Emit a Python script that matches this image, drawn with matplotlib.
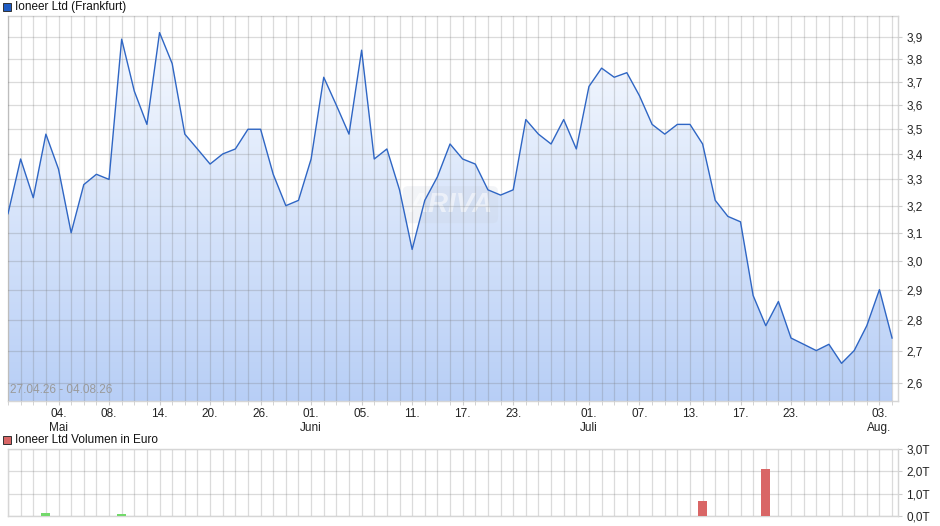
import numpy as np
import matplotlib
matplotlib.use("Agg")
import matplotlib.pyplot as plt
from matplotlib.patches import Rectangle, Polygon
from matplotlib.ticker import FixedLocator, NullLocator, FuncFormatter

plt.rcParams["font.family"] = ["Liberation Sans", "DejaVu Sans"]

# ── Daten (Handelstage 27.04.26 - 04.08.26) ─────────────────
prices = [3.17, 3.38, 3.23, 3.48, 3.34, 3.10, 3.28, 3.32, 3.30, 3.89,
          3.66, 3.52, 3.92, 3.78, 3.48, 3.42, 3.36, 3.40, 3.42, 3.50,
          3.50, 3.32, 3.20, 3.22, 3.38, 3.72, 3.60, 3.48, 3.84, 3.38,
          3.42, 3.26, 3.04, 3.22, 3.31, 3.44, 3.38, 3.36, 3.26, 3.24,
          3.26, 3.54, 3.48, 3.44, 3.54, 3.42, 3.68, 3.76, 3.72, 3.74,
          3.64, 3.52, 3.48, 3.52, 3.52, 3.44, 3.22, 3.16, 3.14, 2.88,
          2.78, 2.86, 2.74, 2.72, 2.70, 2.72, 2.66, 2.70, 2.78, 2.90,
          2.74]

tick_pos = [4, 8, 12, 16, 20, 24, 28, 32, 36, 40, 46, 50, 54, 58, 62, 69]
tick_labels = ["04.\nMai", "08.", "14.", "20.", "26.", "01.\nJuni", "05.", "11.",
               "17.", "23.", "01.\nJuli", "07.", "13.", "17.", "23.", "03.\nAug."]
price_ticks = [2.6, 2.7, 2.8, 2.9, 3.0, 3.1, 3.2, 3.3, 3.4, 3.5, 3.6, 3.7, 3.8, 3.9]

# Volumen in Tausend Euro
vol_days = [3, 9, 55, 60]
vol_values = [0.15, 0.07, 0.67, 2.1]
vol_ticks = [0, 1, 2, 3]

W, H = 940, 526
fig = plt.figure(figsize=(W / 100, H / 100), dpi=100)

def px_axes(left, top, right, bottom):
    return fig.add_axes([left / W, 1 - bottom / H, (right - left) / W, (bottom - top) / H])

grid_kw = dict(color=(0.45, 0.45, 0.45), alpha=0.25, linewidth=0.9)
x = np.arange(len(prices))
xmax = 70.47

# ── Kurs-Chart ──────────────────────────────────────────────
ax = px_axes(8, 16, 898, 401)
ax.set_yscale("log")
ax.set_xlim(0, xmax)
ax.set_ylim(2.545, 3.997)
ax.set_autoscale_on(False)

ymin = 2.545
verts = [(0, ymin)] + list(zip(x, prices)) + [(x[-1], ymin)]
poly = Polygon(verts, closed=True, facecolor="none", edgecolor="none", transform=ax.transData)
ax.add_patch(poly)
top_c = np.array([0.975, 0.985, 1.0])
bot_c = np.array([0.72, 0.81, 0.965])
t = np.linspace(0, 1, 256)[:, None]
grad = (top_c * (1 - t) + bot_c * t)[:, None, :]
im = ax.imshow(grad, extent=[0, 1, 0, 1], transform=ax.transAxes, aspect="auto",
               interpolation="bilinear", zorder=1)
im.set_clip_path(poly)

ax.plot(x, prices, color="#2f66c4", linewidth=1.0, zorder=4)

ax.xaxis.set_major_locator(FixedLocator(tick_pos))
ax.xaxis.set_minor_locator(FixedLocator(np.arange(0, 71)))
ax.set_xticklabels(tick_labels, fontsize=8.5, color="#222222", linespacing=1.2)
ax.yaxis.set_major_locator(FixedLocator(price_ticks))
ax.yaxis.set_minor_locator(NullLocator())
ax.yaxis.set_major_formatter(FuncFormatter(lambda v, p: f"{v:.1f}".replace(".", ",")))
ax.yaxis.tick_right()
ax.tick_params(axis="y", labelsize=8.5, labelcolor="#222222", length=3, color="#cccccc", pad=3)
ax.tick_params(axis="x", which="both", length=3, color="#cccccc", pad=2)
ax.grid(True, which="both", axis="x", zorder=3, **grid_kw)
ax.grid(True, which="major", axis="y", zorder=3, **grid_kw)
ax.set_axisbelow(False)
for s in ax.spines.values():
    s.set_color("#d6d6d6")
    s.set_linewidth(1.0)

ax.text(0.002, 0.012, "27.04.26 - 04.08.26", transform=ax.transAxes, fontsize=8.5,
        color="#9a9a9a", ha="left", va="bottom", zorder=5)
ax.text(0.497, 0.51, "ARIVA", transform=ax.transAxes, fontsize=20, color="white",
        style="italic", weight="bold", ha="center", va="center", alpha=0.55, zorder=2,
        bbox=dict(boxstyle="round,pad=0.2", fc="#c8cfdc", ec="none", alpha=0.22))

# ── Volumen-Chart ───────────────────────────────────────────
axv = px_axes(8, 449, 898, 516)
axv.set_xlim(0, xmax)
axv.set_ylim(0, 3)
colors = ["#73d96b" if prices[d] >= prices[d - 1] else "#d96666" for d in vol_days]
axv.bar(vol_days, vol_values, width=0.72, color=colors, zorder=4)
axv.xaxis.set_major_locator(FixedLocator(np.arange(0, 71)))
axv.set_xticklabels([])
axv.tick_params(axis="x", length=0)
axv.yaxis.set_major_locator(FixedLocator(vol_ticks))
axv.yaxis.set_major_formatter(FuncFormatter(lambda v, p: f"{v:.1f}T".replace(".", ",")))
axv.yaxis.tick_right()
axv.tick_params(axis="y", labelsize=8.5, labelcolor="#222222", length=3, color="#cccccc", pad=3)
axv.grid(True, axis="both", zorder=3, **grid_kw)
for s in axv.spines.values():
    s.set_color("#d6d6d6")
    s.set_linewidth(1.0)

# ── Legenden oben links ─────────────────────────────────────
fig.patches.append(Rectangle((3 / W, 1 - 11 / H), 8 / W, 8 / H, transform=fig.transFigure,
                             facecolor="#1f5cc4", edgecolor="#333333", linewidth=0.7))
fig.text(15 / W, 1 - 7 / H, "Ioneer Ltd (Frankfurt)", fontsize=8.5, color="#111111", va="center")
fig.patches.append(Rectangle((3 / W, 1 - 444 / H), 8 / W, 8 / H, transform=fig.transFigure,
                             facecolor="#d96666", edgecolor="#333333", linewidth=0.7))
fig.text(15 / W, 1 - 440 / H, "Ioneer Ltd Volumen in Euro", fontsize=8.5, color="#111111",
         va="center")

fig.savefig("out.png", dpi=100)
